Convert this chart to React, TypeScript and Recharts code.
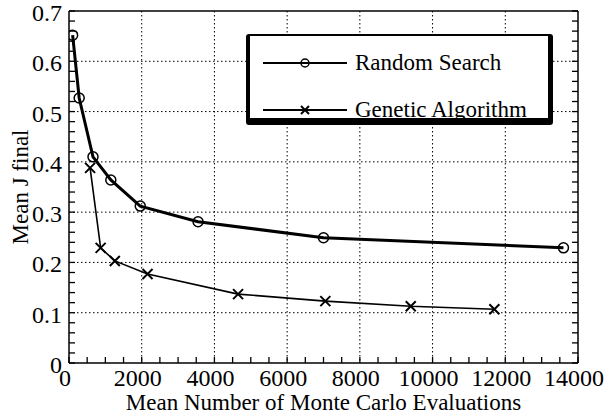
import React from 'react';
import { LineChart, Line, XAxis, YAxis, CartesianGrid, Legend, Label } from 'recharts';

// values
const randomSearchX = [100, 280, 660, 1150, 1960, 3550, 7000, 13600];
const randomSearchY = [0.652, 0.527, 0.41, 0.364, 0.312, 0.281, 0.249, 0.229];
const geneticX = [580, 870, 1260, 2160, 4650, 7050, 9400, 11700];
const geneticY = [0.388, 0.229, 0.203, 0.177, 0.137, 0.123, 0.113, 0.107];

const seriesNames = ['Random Search', 'Genetic Algorithm'];

const xTicks = [
  0, 500, 1000, 1500, 2000, 2500, 3000, 3500, 4000, 4500, 5000, 5500, 6000, 6500, 7000,
  7500, 8000, 8500, 9000, 9500, 10000, 10500, 11000, 11500, 12000, 12500, 13000, 13500, 14000,
];
const xLabels = [0, 2000, 4000, 6000, 8000, 10000, 12000, 14000];
const yTicks = [
  0, 0.02, 0.04, 0.06, 0.08, 0.1, 0.12, 0.14, 0.16, 0.18, 0.2, 0.22, 0.24, 0.26, 0.28, 0.3,
  0.32, 0.34, 0.36, 0.38, 0.4, 0.42, 0.44, 0.46, 0.48, 0.5, 0.52, 0.54, 0.56, 0.58, 0.6,
  0.62, 0.64, 0.66, 0.68, 0.7,
];
const yLabels = [0, 0.1, 0.2, 0.3, 0.4, 0.5, 0.6, 0.7];
const xGrid = [2000, 4000, 6000, 8000, 10000, 12000];
const yGrid = [0.1, 0.2, 0.3, 0.4, 0.5, 0.6];

const rsData = randomSearchX.map((x, i) => ({ x, y: randomSearchY[i] }));
const gaData = geneticX.map((x, i) => ({ x, y: geneticY[i] }));

const FONT = 'Liberation Serif';
const TICK = 6;
const TICK_W = 1.3;

// tick marks point inward, labels only on the major values
function renderBottomTick(props: any) {
  const { x, y, payload } = props;
  const show = xLabels.includes(payload.value);
  return (
    <g key={`b${payload.value}`}>
      <line x1={x} x2={x} y1={y} y2={y - TICK} stroke="#000" strokeWidth={TICK_W} />
      {show && (
        <text x={x - 4} y={y} dy={23} textAnchor="middle" fill="#000" fontSize={24} fontFamily={FONT}>
          {payload.value}
        </text>
      )}
    </g>
  );
}

function renderTopTick(props: any) {
  const { x, y, payload } = props;
  return <line key={`t${payload.value}`} x1={x} x2={x} y1={y} y2={y + TICK} stroke="#000" strokeWidth={TICK_W} />;
}

function renderLeftTick(props: any) {
  const { x, y, payload } = props;
  const show = yLabels.some((v) => Math.abs(v - payload.value) < 1e-9);
  return (
    <g key={`l${payload.value}`}>
      <line x1={x} x2={x + TICK} y1={y} y2={y} stroke="#000" strokeWidth={TICK_W} />
      {show && (
        <text x={x - 7} y={y} dy={10} textAnchor="end" fill="#000" fontSize={24} fontFamily={FONT}>
          {payload.value}
        </text>
      )}
    </g>
  );
}

function renderRightTick(props: any) {
  const { x, y, payload } = props;
  return <line key={`r${payload.value}`} x1={x} x2={x - TICK} y1={y} y2={y} stroke="#000" strokeWidth={TICK_W} />;
}

function renderCircle(props: any) {
  const { cx, cy, index } = props;
  return <circle key={`c${index}`} cx={cx} cy={cy} r={5} fill="none" stroke="#000" strokeWidth={1.5} />;
}

function renderCross(props: any) {
  const { cx, cy, index } = props;
  const s = 5;
  return (
    <path
      key={`x${index}`}
      d={`M${cx - s},${cy - s}L${cx + s},${cy + s}M${cx - s},${cy + s}L${cx + s},${cy - s}`}
      stroke="#000"
      strokeWidth={2}
    />
  );
}

function renderLegend() {
  return (
    <div
      style={{
        width: 307,
        height: 91,
        boxSizing: 'border-box',
        background: '#fff',
        borderStyle: 'solid',
        borderColor: '#000',
        borderWidth: '2px 5px 7px 4px',
        borderRadius: 3,
      }}
    >
      <svg width={298} height={82} style={{ display: 'block' }}>
        {seriesNames.map((name, i) => {
          const cy = 27 + i * 47;
          return (
            <g key={name}>
              <line x1={13} x2={97} y1={cy} y2={cy} stroke="#000" strokeWidth={2} />
              {i === 0 ? (
                <circle cx={55} cy={cy} r={4} fill="none" stroke="#000" strokeWidth={1.5} />
              ) : (
                <path d={`M51,${cy - 4}L59,${cy + 4}M51,${cy + 4}L59,${cy - 4}`} stroke="#000" strokeWidth={2} />
              )}
              <text x={105} y={cy + 7} fill="#000" fontSize={23} fontFamily={FONT}>
                {name}
              </text>
            </g>
          );
        })}
      </svg>
    </div>
  );
}

export default function App() {
  return (
    <div style={{ position: 'absolute', left: 0, top: 0, background: '#fff', fontFamily: FONT }}>
      <LineChart width={605} height={420} margin={{ top: 10, right: 26, bottom: 7, left: 9 }}>
        <CartesianGrid
          stroke="#000"
          strokeDasharray="1.5 2.5"
          verticalValues={xGrid}
          horizontalValues={yGrid}
        />
        <XAxis
          dataKey="x"
          type="number"
          domain={[0, 14000]}
          ticks={xTicks}
          interval={0}
          allowDataOverflow
          height={50}
          tickSize={0}
          tickMargin={0}
          tickLine={false}
          tick={renderBottomTick}
          axisLine={{ stroke: '#000', strokeWidth: 1.5 }}
        >
          <Label
            value="Mean Number of Monte Carlo Evaluations"
            position="insideBottom"
            offset={3}
            style={{ fontSize: 23, fontFamily: FONT, fill: '#000' }}
          />
        </XAxis>
        <XAxis
          xAxisId="top"
          orientation="top"
          type="number"
          domain={[0, 14000]}
          ticks={xTicks}
          interval={0}
          allowDataOverflow
          height={1}
          tickSize={0}
          tickMargin={0}
          tickLine={false}
          tick={renderTopTick}
          axisLine={{ stroke: '#000', strokeWidth: 1.5 }}
        />
        <YAxis
          type="number"
          domain={[0, 0.7]}
          ticks={yTicks}
          interval={0}
          allowDataOverflow
          width={60}
          tickSize={0}
          tickMargin={0}
          tickLine={false}
          tick={renderLeftTick}
          axisLine={{ stroke: '#000', strokeWidth: 1.5 }}
        >
          <Label
            content={(p: any) => {
              const vb = p.viewBox || { x: 9, y: 11, width: 60, height: 352 };
              const cx = vb.x + 11;
              const cy = vb.y + vb.height / 2;
              return (
                <text
                  x={cx}
                  y={cy}
                  transform={`rotate(-90 ${cx} ${cy})`}
                  textAnchor="middle"
                  dominantBaseline="central"
                  fill="#000"
                  fontSize={23}
                  fontFamily={FONT}
                >
                  Mean J final
                </text>
              );
            }}
          />
        </YAxis>
        <YAxis
          yAxisId="right"
          orientation="right"
          type="number"
          domain={[0, 0.7]}
          ticks={yTicks}
          interval={0}
          allowDataOverflow
          width={1}
          tickSize={0}
          tickMargin={0}
          tickLine={false}
          tick={renderRightTick}
          axisLine={{ stroke: '#000', strokeWidth: 1.5 }}
        />
        <Legend
          layout="vertical"
          align="center"
          verticalAlign="middle"
          wrapperStyle={{ left: 246, top: 34, width: 307 }}
          content={renderLegend}
        />
        <Line
          data={rsData}
          dataKey="y"
          name={seriesNames[0]}
          type="linear"
          stroke="#000"
          strokeWidth={3}
          dot={renderCircle}
          isAnimationActive={false}
        />
        <Line
          data={gaData}
          dataKey="y"
          name={seriesNames[1]}
          type="linear"
          stroke="#000"
          strokeWidth={1.6}
          dot={renderCross}
          isAnimationActive={false}
        />
      </LineChart>
    </div>
  );
}
